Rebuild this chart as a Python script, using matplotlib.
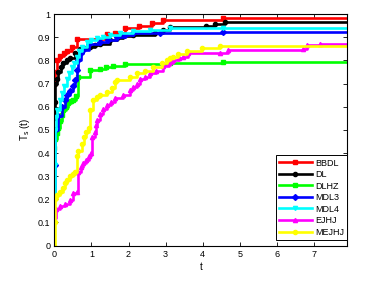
import matplotlib
matplotlib.use("Agg")
import matplotlib.pyplot as plt

plt.rcParams['font.family'] = ['Liberation Sans', 'DejaVu Sans']

T_MAX = 7.9

names = ["BBDL", "DL", "DLHZ", "MDL3", "MDL4", "EJHJ", "MEJHJ"]
colors = ["#ff0000", "#000000", "#00ff00", "#0000ff", "#00ffff", "#ff00ff", "#ffff00"]
markers = ["s", "o", "s", "D", "v", "^", "o"]

bbdl_t = [0, 0.02, 0.08, 0.15, 0.25, 0.33, 0.47, 0.6, 1.41, 1.64, 1.9, 2.27, 2.62, 2.94, 4.55]
bbdl_v = [0.70, 0.75, 0.80, 0.82, 0.83, 0.84, 0.856, 0.893, 0.915, 0.92, 0.94, 0.95, 0.96, 0.975, 0.985]

dl_t = [0, 0.01, 0.02, 0.06, 0.11, 0.18, 0.24, 0.33, 0.42, 0.56, 0.69, 0.8, 0.96, 1.1, 1.23,
        1.5, 1.7, 1.86, 2.13, 2.72, 2.94, 3.12, 4.1, 4.33, 4.6]
dl_v = [0.55, 0.62, 0.70, 0.72, 0.75, 0.77, 0.787, 0.80, 0.81, 0.83, 0.848, 0.853, 0.86, 0.865, 0.873,
        0.888, 0.895, 0.905, 0.91, 0.92, 0.93, 0.945, 0.95, 0.957, 0.967]

dlhz_t = [0, 0.02, 0.06, 0.11, 0.16, 0.2, 0.24, 0.3, 0.38, 0.45, 0.51, 0.58, 0.63, 0.96,
          1.23, 1.4, 1.59, 1.9, 3.12, 4.55]
dlhz_v = [0.42, 0.46, 0.485, 0.51, 0.54, 0.565, 0.585, 0.60, 0.615, 0.625, 0.63, 0.645, 0.73, 0.76,
          0.765, 0.77, 0.775, 0.785, 0.79, 0.794]

mdl3_t = [0, 0.01, 0.02, 0.1, 0.2, 0.29, 0.35, 0.42, 0.5, 0.56, 0.62, 0.65, 0.72, 0.78, 0.92,
          1.23, 1.45, 1.68, 1.9, 2.13, 2.85, 4.55]
mdl3_v = [0.2, 0.35, 0.5, 0.56, 0.6, 0.63, 0.65, 0.67, 0.69, 0.715, 0.76, 0.80, 0.83, 0.845, 0.873,
          0.88, 0.89, 0.90, 0.91, 0.917, 0.92, 0.922]

mdl4_t = [0, 0.01, 0.02, 0.04, 0.08, 0.15, 0.2, 0.27, 0.33, 0.4, 0.47, 0.53, 0.6, 0.67, 0.74,
          0.87, 1.0, 1.14, 1.3, 1.5, 1.77, 2.13, 2.58, 3.12, 4.55]
mdl4_v = [0.2, 0.35, 0.5, 0.557, 0.585, 0.63, 0.66, 0.69, 0.72, 0.745, 0.77, 0.79, 0.816, 0.84, 0.86,
          0.88, 0.888, 0.895, 0.9, 0.91, 0.92, 0.925, 0.93, 0.938, 0.941]

ejhj_t = [0, 0.05, 0.15, 0.29, 0.42, 0.51, 0.6, 0.65, 0.72, 0.78, 0.85, 0.92, 1.0, 1.02, 1.1,
          1.12, 1.15, 1.23, 1.32, 1.41, 1.52, 1.64, 1.86, 2.04, 2.13, 2.22, 2.31, 2.45, 2.58,
          2.75, 2.94, 3.1, 3.21, 3.35, 3.48, 3.61, 4.47, 4.69, 6.71, 6.8, 7.16]
ejhj_v = [0.12, 0.16, 0.17, 0.18, 0.197, 0.226, 0.233, 0.32, 0.34, 0.356, 0.37, 0.385, 0.40, 0.47, 0.49,
          0.52, 0.543, 0.57, 0.59, 0.607, 0.62, 0.636, 0.65, 0.672, 0.685, 0.70, 0.72, 0.73, 0.745,
          0.755, 0.775, 0.79, 0.80, 0.81, 0.816, 0.83, 0.833, 0.845, 0.848, 0.866, 0.873]

mejhj_t = [0, 0.01, 0.02, 0.08, 0.15, 0.22, 0.29, 0.35, 0.42, 0.5, 0.56, 0.6, 0.65, 0.74, 0.8,
           0.86, 0.92, 0.96, 1.05, 1.15, 1.23, 1.41, 1.55, 1.64, 1.7, 2.04, 2.22, 2.45, 2.67,
           2.89, 3.03, 3.12, 3.21, 3.34, 3.57, 3.97, 4.47]
mejhj_v = [0.0, 0.1, 0.2, 0.22, 0.233, 0.25, 0.27, 0.285, 0.30, 0.31, 0.32, 0.385, 0.41, 0.44, 0.47,
           0.49, 0.507, 0.585, 0.63, 0.64, 0.65, 0.665, 0.68, 0.708, 0.715, 0.73, 0.744, 0.755, 0.773,
           0.787, 0.80, 0.81, 0.816, 0.826, 0.84, 0.852, 0.862]

series_t = [bbdl_t, dl_t, dlhz_t, mdl3_t, mdl4_t, ejhj_t, mejhj_t]
series_v = [bbdl_v, dl_v, dlhz_v, mdl3_v, mdl4_v, ejhj_v, mejhj_v]

x_ticks = [0, 1, 2, 3, 4, 5, 6, 7]
y_ticks = [0, 0.1, 0.2, 0.3, 0.4, 0.5, 0.6, 0.7, 0.8, 0.9, 1]
y_tick_labels = ["0", "0.1", "0.2", "0.3", "0.4", "0.5", "0.6", "0.7", "0.8", "0.9", "1"]

fig = plt.figure(figsize=(3.83, 2.82), dpi=100)
ax = fig.add_axes([0.142, 0.129, 0.765, 0.821])

for name, c, m, t, v in zip(names, colors, markers, series_t, series_v):
    tt = list(t) + [T_MAX + 0.5]
    vv = list(v) + [v[-1]]
    ax.plot(tt, vv, drawstyle='steps-post', color=c, lw=1.9, marker=m,
            markersize=3.0, markevery=list(range(len(t))), label=name,
            markeredgecolor=c, markerfacecolor=c)

ax.set_xlim(0, T_MAX)
ax.set_ylim(0, 1)
ax.set_xticks(x_ticks)
ax.set_yticks(y_ticks)
ax.set_yticklabels(y_tick_labels)
ax.tick_params(direction='in', top=True, right=True, labelsize=6.5, length=3, width=0.6, pad=3)
for s in ax.spines.values():
    s.set_linewidth(0.8)

ax.set_xlabel('t', fontsize=7, labelpad=2)
ax.set_ylabel(r'T$_\mathrm{s}$ (t)', fontsize=7, labelpad=4)

leg = ax.legend(loc='lower right', bbox_to_anchor=(1.0, 0.025), fontsize=6.5,
                frameon=True, fancybox=False, edgecolor='black', framealpha=1,
                handlelength=3.6, handletextpad=0.4, labelspacing=0.28,
                borderpad=0.35, borderaxespad=0.0)
leg.get_frame().set_linewidth(0.7)

fig.savefig('out.png', dpi=100)
